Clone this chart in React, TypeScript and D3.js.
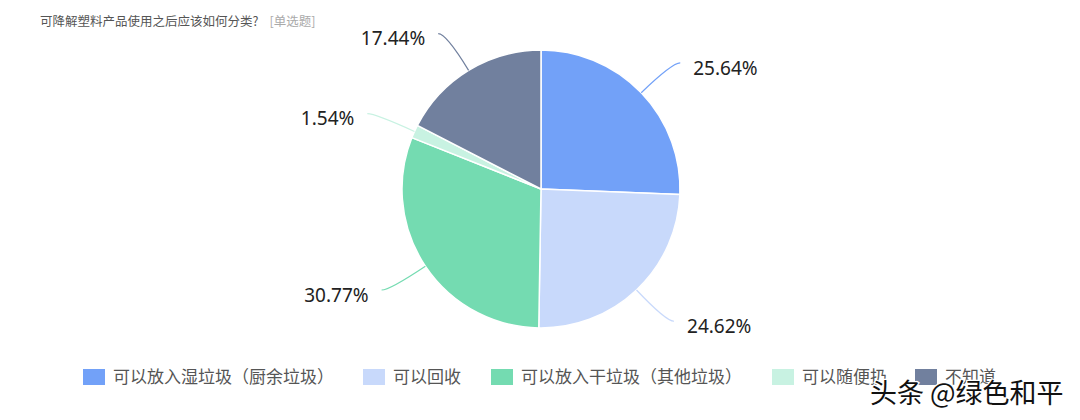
import { useRef, useEffect } from 'react';
import * as d3 from 'd3';

// Data
const categories = ['可以放入湿垃圾（厨余垃圾）', '可以回收', '可以放入干垃圾（其他垃圾）', '可以随便扔', '不知道'];
const values = [25.64, 24.62, 30.77, 1.54, 17.44];
const colors = ['#72a1f8', '#c8d9fb', '#74dbb1', '#c8f2e2', '#71809e'];
const legendX = [83, 363, 491, 772, 915];

const W = 1080;
const H = 420;

export default function App() {
  const svgRef = useRef<SVGSVGElement>(null);

  useEffect(() => {
    document.body.style.margin = '0';
    const svg = d3.select(svgRef.current);
    svg.selectAll('*').remove();

    const cx = 541;
    const cy = 189;
    const radius = 139;
    const len1 = 43;
    const len2 = 8;
    const cjk = '"Microsoft YaHei", "Noto Sans CJK SC", sans-serif';
    const num = '"Noto Sans", "Noto Sans CJK SC", sans-serif';

    svg.append('rect').attr('width', W).attr('height', H).attr('fill', '#fff');

    // Title
    const title = svg.append('text')
      .attr('x', 40).attr('y', 26)
      .attr('font-family', cjk)
      .attr('font-size', 12.5);
    title.append('tspan').attr('fill', '#555').text('可降解塑料产品使用之后应该如何分类?');
    title.append('tspan').attr('fill', '#aaa').attr('dx', 11).text('[单选题]');

    const pie = d3.pie<number>().sort(null).value((d) => d);
    const arcs = pie(values);
    const arcGen = d3.arc<d3.PieArcDatum<number>>().innerRadius(0).outerRadius(radius);

    const g = svg.append('g').attr('transform', `translate(${cx},${cy})`);

    g.selectAll('path.slice')
      .data(arcs)
      .join('path')
      .attr('class', 'slice')
      .attr('d', arcGen)
      .attr('fill', (_, i) => colors[i])
      .attr('stroke', '#fff')
      .attr('stroke-width', 1.5);

    // Label lines + labels
    arcs.forEach((a, i) => {
      const mid = (a.startAngle + a.endAngle) / 2;
      const sx = Math.sin(mid);
      const sy = -Math.cos(mid);
      const right = sx >= 0;
      const p0 = [sx * radius, sy * radius];
      const p1 = [sx * (radius + len1), sy * (radius + len1)];
      const p2 = [p1[0] + (right ? len2 : -len2), p1[1]];
      const path = d3.path();
      path.moveTo(p0[0], p0[1]);
      path.quadraticCurveTo(p1[0], p1[1], p2[0], p2[1]);
      g.append('path')
        .attr('d', path.toString())
        .attr('fill', 'none')
        .attr('stroke', colors[i])
        .attr('stroke-width', 1.2);

      g.append('text')
        .attr('x', p2[0] + (right ? 13 : -13))
        .attr('y', p2[1] + 5)
        .attr('dy', '0.35em')
        .attr('text-anchor', right ? 'start' : 'end')
        .attr('font-family', num)
        .attr('font-size', 19)
        .attr('fill', '#222')
        .text(`${values[i].toFixed(2)}%`);
    });

    // Legend
    const legend = svg.append('g').attr('transform', 'translate(0,377)');
    categories.forEach((c, i) => {
      legend.append('rect')
        .attr('x', legendX[i]).attr('y', -8)
        .attr('width', 22).attr('height', 16)
        .attr('fill', colors[i]);
      legend.append('text')
        .attr('x', legendX[i] + 30).attr('y', 0)
        .attr('dy', '0.35em')
        .attr('font-family', cjk)
        .attr('font-size', 17)
        .attr('fill', '#555')
        .text(c);
    });

    // Watermark
    svg.append('text')
      .attr('x', 870).attr('y', 403)
      .attr('font-family', cjk)
      .attr('font-size', 27)
      .attr('fill', '#111')
      .attr('stroke', '#fff')
      .attr('stroke-width', 2.5)
      .attr('paint-order', 'stroke')
      .text('头条 @绿色和平');
  }, []);

  return <svg ref={svgRef} width={W} height={H} style={{ display: 'block' }} />;
}
